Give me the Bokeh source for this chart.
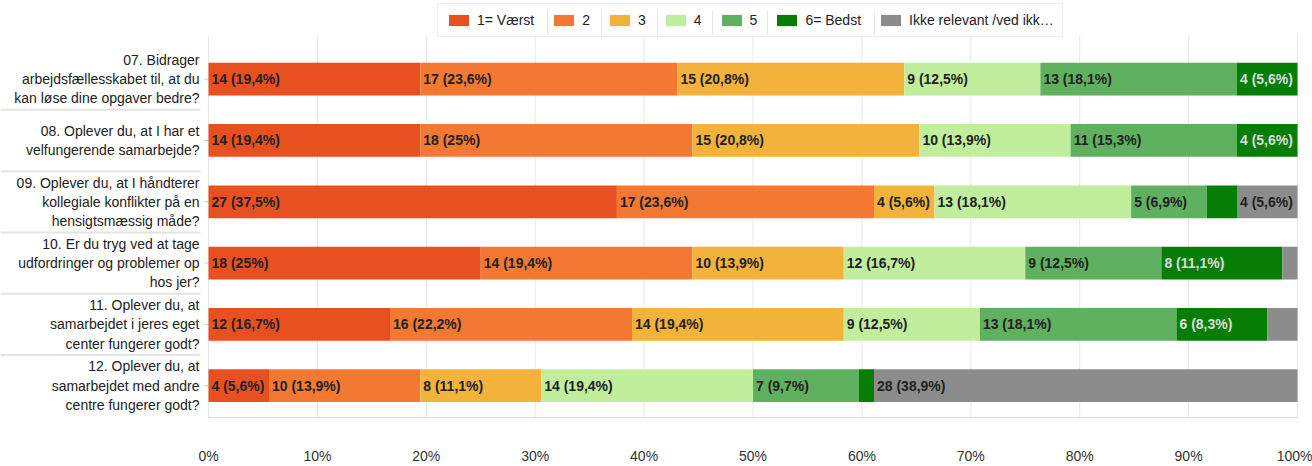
from bokeh.plotting import figure
from bokeh.models import Range1d, FixedTicker, Legend, LegendItem, ColumnDataSource, NumeralTickFormatter
from bokeh.core.properties import value
from bokeh.embed import file_html
from bokeh.resources import INLINE

questions = [
    "07. Bidrager\narbejdsfællesskabet til, at du\nkan løse dine opgaver bedre?",
    "08. Oplever du, at I har et\nvelfungerende samarbejde?",
    "09. Oplever du, at I håndterer\nkollegiale konflikter på en\nhensigtsmæssig måde?",
    "10. Er du tryg ved at tage\nudfordringer og problemer op\nhos jer?",
    "11. Oplever du, at\nsamarbejdet i jeres eget\ncenter fungerer godt?",
    "12. Oplever du, at\nsamarbejdet med andre\ncentre fungerer godt?",
]
series_names = ["1= Værst", "2", "3", "4", "5", "6= Bedst", "Ikke relevant /ved ikk…"]
colors = ["#E9501F", "#F37832", "#F3B23A", "#C0EE9C", "#5FB05F", "#067E06", "#8C8C8C"]
label_colors = ["#222222", "#222222", "#222222", "#222222", "#222222", "#DDDDDD", "#222222"]

s1 = [14, 14, 27, 18, 12, 4]
s2 = [17, 18, 17, 14, 16, 10]
s3 = [15, 15, 4, 10, 14, 8]
s4 = [9, 10, 13, 12, 9, 14]
s5 = [13, 11, 5, 9, 13, 7]
s6 = [4, 4, 2, 8, 6, 1]
s7 = [0, 0, 4, 1, 2, 28]
series_counts = [s1, s2, s3, s4, s5, s6, s7]
total = 72
x_ticks = [i / 10 for i in range(11)]

rows = list(range(len(questions)))

PX0, PXU = 208.0, 1089.0   # pixel of 0%, pixels per 100%
PY0, PYU = 81.5, 63.5      # pixel of first row, pixels per row


def dx(px):
    return (px - PX0) / PXU


def dy(py):
    return (py - PY0) / PYU


Y_TOP = dy(0)
Y_BOT = dy(433)
p = figure(width=1312, height=466, output_backend="svg", toolbar_location=None,
           x_range=Range1d(dx(0), dx(1298)), y_range=Range1d(Y_BOT, Y_TOP),
           min_border_left=0, min_border_right=14, min_border_top=0, min_border_bottom=33)
p.outline_line_color = None
p.grid.visible = False
p.yaxis.visible = False
p.background_fill_color = "white"

# gridlines
p.segment(x0=x_ticks, x1=x_ticks, y0=[dy(36)] * len(x_ticks), y1=[Y_BOT] * len(x_ticks),
          line_color="#e8e8e8", line_width=1)
# bottom axis line
p.segment(x0=[0], x1=[1], y0=[dy(432)], y1=[dy(432)], line_color="#d6d6d6", line_width=1)

# separators in label area
seps = [r + 0.5 for r in rows[:-1]]
p.segment(x0=[dx(0)] * len(seps), x1=[dx(200)] * len(seps), y0=seps, y1=seps,
          line_color="#e4e4e4", line_width=2)
# small category ticks
p.segment(x0=[dx(204)] * len(rows), x1=[0] * len(rows), y0=rows, y1=rows,
          line_color="#c8c8c8", line_width=1)

# bars
cum = [0] * len(rows)
items = []
lab_x, lab_y, lab_t, lab_c = [], [], [], []
for name, counts, col, lc in zip(series_names, series_counts, colors, label_colors):
    left = [c / total for c in cum]
    right = [(c + v) / total for c, v in zip(cum, counts)]
    src = ColumnDataSource(dict(y=rows, left=left, right=right))
    r = p.hbar(y="y", left="left", right="right", height=0.535, source=src,
               fill_color=col, line_color=None)
    items.append(LegendItem(label=name, renderers=[r]))
    for i, v in enumerate(counts):
        if v >= 3:
            pct = f"{v / total * 100:.1f}".rstrip("0").rstrip(".").replace(".", ",")
            lab_x.append(left[i]); lab_y.append(i)
            lab_t.append(f"{v} ({pct}%)"); lab_c.append(lc)
    cum = [c + v for c, v in zip(cum, counts)]

lsrc = ColumnDataSource(dict(x=lab_x, y=lab_y, t=lab_t, c=lab_c))
p.text(x="x", y="y", text="t", text_color="c", source=lsrc, x_offset=3,
       text_align="left", text_baseline="middle", text_font=value("Liberation Sans"),
       text_font_size="14px", text_font_style="bold")

# question labels
p.text(x=[0] * len(rows), y=rows, text=questions, x_offset=-9, text_align="right",
       text_baseline="middle", text_font=value("Liberation Sans"), text_font_size="14px",
       text_color="#222222", text_line_height=1.2)

# legend item separators
leg_seps = [547, 601, 657, 712, 767, 874]
p.segment(x0=[dx(v) for v in leg_seps], x1=[dx(v) for v in leg_seps],
          y0=[dy(10)] * len(leg_seps), y1=[dy(36)] * len(leg_seps),
          line_color="#e6e6e6", line_width=1)

# x axis
p.xaxis.ticker = FixedTicker(ticks=x_ticks)
p.xaxis.formatter = NumeralTickFormatter(format="0%")
p.xaxis.axis_line_color = None
p.xaxis.major_tick_line_color = None
p.xaxis.minor_tick_line_color = None
p.xaxis.major_label_standoff = 23
p.xaxis.major_label_text_font = "Liberation Sans"
p.xaxis.major_label_text_font_size = "14px"
p.xaxis.major_label_text_color = "#333333"

legend = Legend(items=items, orientation="horizontal", location=(437, 381),
                glyph_width=25, glyph_height=14, label_standoff=6, spacing=17,
                padding=8, margin=0, label_width=0, label_text_font="Liberation Sans",
                label_text_font_size="14px", label_text_color="#222222",
                label_height=14, border_line_color="#dcdcdc", border_line_width=1,
                background_fill_color="white", background_fill_alpha=0.0)
p.add_layout(legend)

open("out.html", "w").write(file_html(p, INLINE))
